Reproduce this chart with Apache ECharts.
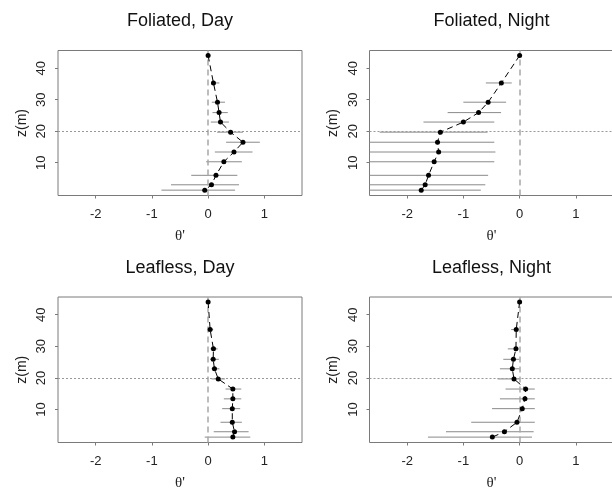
<!DOCTYPE html>
<html>
<head>
<meta charset="utf-8">
<script src="https://cdn.jsdelivr.net/npm/echarts@6/dist/echarts.min.js"></script>
<style>
html,body{margin:0;padding:0;background:#fff;}
#chart{width:612px;height:489px;}
</style>
</head>
<body>
<div id="chart"></div>
<script>
// ---- data ----
const panelTitles = ["Foliated, Day", "Foliated, Night", "Leafless, Day", "Leafless, Night"];
const zLevels = [44, 35.3, 29.2, 25.9, 22.9, 19.7, 16.5, 13.4, 10.3, 6.0, 3.0, 1.3];
const xTicks = [-2, -1, 0, 1];
const yTicks = [10, 20, 30, 40];

const folDayTheta = [0.0, 0.095, 0.167, 0.195, 0.22, 0.40, 0.62, 0.46, 0.28, 0.14, 0.06, -0.06];
const folDayLo    = [null, 0.07, 0.066, 0.078, 0.048, 0.16, 0.32, 0.12, -0.035, -0.30, -0.66, -0.83];
const folDayHi    = [null, 0.20, 0.30, 0.35, 0.37, 0.62, 0.92, 0.79, 0.60, 0.52, 0.55, 0.48];

const folNightTheta = [0.0, -0.325, -0.56, -0.73, -1.0, -1.41, -1.46, -1.44, -1.52, -1.62, -1.68, -1.75];
const folNightLo    = [null, -0.60, -1.0, -1.28, -1.71, -2.49, -2.9, -2.9, -2.9, -2.9, -2.9, -2.9];
const folNightHi    = [null, -0.14, -0.24, -0.33, -0.45, -0.57, -0.45, -0.43, -0.45, -0.56, -0.61, -0.69];

const leafDayTheta = [0.0, 0.036, 0.095, 0.09, 0.113, 0.18, 0.44, 0.44, 0.43, 0.43, 0.47, 0.44];
const leafDayLo    = [null, 0.003, 0.04, 0.04, 0.06, 0.06, 0.31, 0.28, 0.25, 0.22, 0.10, -0.06];
const leafDayHi    = [null, 0.09, 0.17, 0.19, 0.20, 0.30, 0.59, 0.59, 0.57, 0.60, 0.72, 0.75];

const leafNightTheta = [0.0, -0.06, -0.065, -0.11, -0.13, -0.10, 0.107, 0.095, 0.047, -0.047, -0.27, -0.485];
const leafNightLo    = [null, -0.15, -0.21, -0.29, -0.35, -0.39, -0.25, -0.35, -0.49, -0.86, -1.31, -1.63];
const leafNightHi    = [null, -0.03, -0.02, -0.005, 0.0, 0.006, 0.27, 0.27, 0.27, 0.27, 0.25, 0.22];

const panels = [
  {theta: folDayTheta, lo: folDayLo, hi: folDayHi},
  {theta: folNightTheta, lo: folNightLo, hi: folNightHi},
  {theta: leafDayTheta, lo: leafDayLo, hi: leafDayHi},
  {theta: leafNightTheta, lo: leafNightLo, hi: leafNightHi}
];

// ---- layout ----
const xMin = -2.67, xMax = 1.67, yMin = -0.4, yMax = 45.6;
const grids = [
  {left: 58, top: 50.5, width: 244, height: 145},
  {left: 369.5, top: 50.5, width: 244, height: 145},
  {left: 58, top: 297, width: 244, height: 145.5},
  {left: 369.5, top: 297, width: 244, height: 145.5}
];
const sans = "'Liberation Sans', Arial, Helvetica, sans-serif";

const chart = echarts.init(document.getElementById('chart'), null, {renderer: 'canvas'});

const option = {
  animation: false,
  backgroundColor: '#fff',
  grid: grids.map(g => Object.assign({show: true, borderColor: '#7a7a7a', borderWidth: 1, backgroundColor: 'transparent', containLabel: false, outerBoundsMode: 'none'}, g)),
  xAxis: grids.map((g, i) => ({
    gridIndex: i, type: 'value', min: xMin, max: xMax,
    axisLine: {show: false, onZero: false},
    axisTick: {show: true, customValues: xTicks, length: 3, lineStyle: {color: '#7a7a7a'}},
    axisLabel: {customValues: xTicks, fontSize: 13, color: '#222', margin: 12, fontFamily: sans},
    splitLine: {show: false},
    name: "θ'", nameLocation: 'middle', nameGap: 33,
    nameTextStyle: {fontSize: 15, color: '#222', fontFamily: "'Liberation Serif', 'DejaVu Serif', serif"}
  })),
  yAxis: grids.map((g, i) => ({
    gridIndex: i, type: 'value', min: yMin, max: yMax,
    axisLine: {show: false, onZero: false},
    axisTick: {show: true, customValues: yTicks, length: 3, lineStyle: {color: '#7a7a7a'}},
    axisLabel: {customValues: yTicks, rotate: 90, fontSize: 13, color: '#222', margin: 10, fontFamily: sans},
    splitLine: {show: false},
    name: 'z(m)', nameLocation: 'middle', nameGap: 29,
    nameTextStyle: {fontSize: 14, color: '#222', fontFamily: sans}
  })),
  graphic: grids.map((g, i) => ({
    type: 'text', x: g.left + g.width / 2, y: g.top - 29,
    style: {text: panelTitles[i], font: '18px ' + sans, fill: '#111', align: 'center', verticalAlign: 'middle'}
  })),
  series: []
};

panels.forEach((p, i) => {
  const barData = [];
  p.theta.forEach((t, k) => {
    if (p.lo[k] !== null) barData.push([p.lo[k], p.hi[k], zLevels[k]]);
  });
  option.series.push({
    type: 'custom', xAxisIndex: i, yAxisIndex: i, clip: true, z: 2,
    encode: {x: [0, 1], y: 2},
    data: barData,
    renderItem: (params, api) => {
      const a = api.coord([api.value(0), api.value(2)]);
      const b = api.coord([api.value(1), api.value(2)]);
      const cs = params.coordSys;
      const x1 = Math.max(a[0], cs.x), x2 = Math.min(b[0], cs.x + cs.width);
      return {type: 'line', shape: {x1: x1, y1: a[1], x2: x2, y2: b[1]},
              style: {stroke: '#8a8a8a', lineWidth: 1}};
    },
    markLine: {
      silent: true, symbol: ['none', 'none'], label: {show: false},
      data: [
        {xAxis: 0, lineStyle: {type: [6, 4], color: '#a8a8a8', width: 1.5}},
        {yAxis: 20, lineStyle: {type: [2, 2], color: '#999', width: 1}}
      ]
    }
  });
  option.series.push({
    type: 'line', xAxisIndex: i, yAxisIndex: i, z: 5,
    data: p.theta.map((t, k) => [t, zLevels[k]]),
    symbol: 'circle', symbolSize: 5, showSymbol: true,
    itemStyle: {color: '#000'},
    lineStyle: {color: '#000', width: 1, type: [6, 4]}
  });
});

chart.setOption(option);
</script>
</body>
</html>
